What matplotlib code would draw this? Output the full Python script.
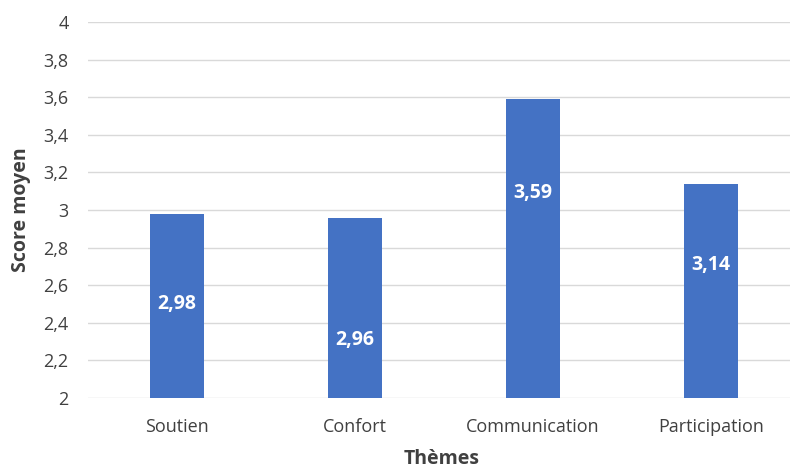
import matplotlib
matplotlib.use("Agg")
import matplotlib.pyplot as plt
from matplotlib.ticker import FuncFormatter

categories = ["Soutien", "Confort", "Communication", "Participation"]
scores = [2.98, 2.96, 3.59, 3.14]
label_y = [2.50, 2.31, 3.09, 2.71]  # vertical positions of the value labels
yticks = [2, 2.2, 2.4, 2.6, 2.8, 3, 3.2, 3.4, 3.6, 3.8, 4]

plt.rcParams['font.family'] = ['Open Sans', 'DejaVu Sans']

fig = plt.figure(figsize=(7.9, 4.68), dpi=100)
ax = fig.add_axes([88/790, 1-398/468, (790-88)/790, (398-22)/468])

x = list(range(len(categories)))
ax.bar(x, scores, width=0.305, color="#4472C4", bottom=0, zorder=3)
ax.set_ylim(2, 4)
ax.set_xlim(-0.5, -0.5 + 702/178)
ax.set_yticks(yticks)
ax.yaxis.set_major_formatter(FuncFormatter(lambda v, p: (f"{v:g}").replace(".", ",")))
ax.set_xticks(x)
ax.set_xticklabels(categories)
ax.grid(axis="y", color="#d9d9d9", linewidth=1.0, zorder=0)
for s in ax.spines.values():
    s.set_visible(False)
ax.tick_params(axis="both", length=0, labelsize=13, colors="#404040")
ax.tick_params(axis="x", pad=14.5)
ax.tick_params(axis="y", pad=14)

for xi, v, ly in zip(x, scores, label_y):
    ax.text(xi, ly, f"{v:.2f}".replace(".", ","), ha="center", va="center",
            color="white", fontsize=14, fontweight="bold", zorder=4)

fig.text(21/790, 1-210/468, "Score moyen", ha="center", va="center", rotation=90,
         fontsize=14, fontweight="bold", color="#404040")
fig.text(442/790, 1-459/468, "Thèmes", ha="center", va="center",
         fontsize=14, fontweight="bold", color="#404040")

fig.savefig("out.png", dpi=100, facecolor="white")
